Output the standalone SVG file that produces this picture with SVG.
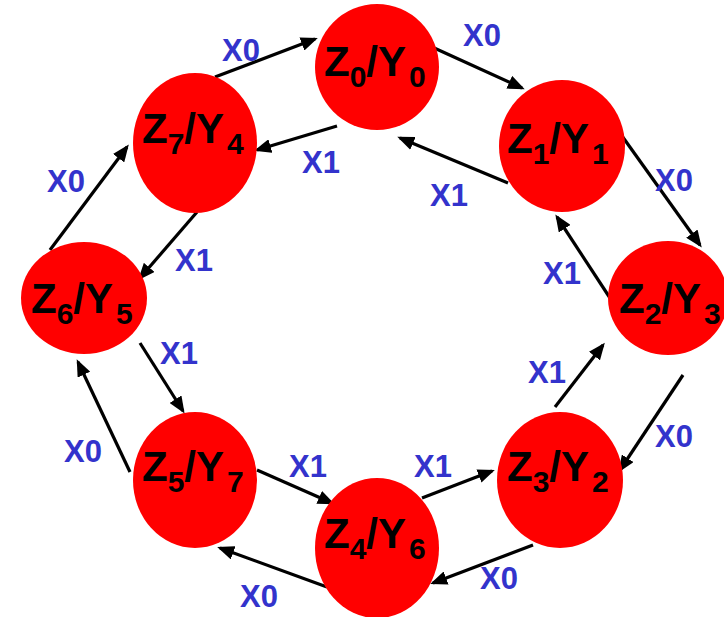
<svg xmlns="http://www.w3.org/2000/svg" width="724" height="617" viewBox="0 0 724 617">
<defs>
<marker id="ah" markerUnits="userSpaceOnUse" markerWidth="17" markerHeight="14" refX="14" refY="7" orient="auto">
<path d="M0,0 L17,7 L0,14 z" fill="#000"/>
</marker>
<style>
.node{fill:#FF0000;stroke:none}
.nt{font-family:"Liberation Sans",Arial,sans-serif;font-weight:bold;font-size:42px;fill:#000}
.sub{font-size:30px}
.lbl{font-family:"Liberation Sans",Arial,sans-serif;font-weight:bold;font-size:31px;fill:#3333CC}
.edge{stroke:#000;stroke-width:3.2;fill:none;marker-end:url(#ah)}
</style>
</defs>
<rect width="724" height="617" fill="#fff"/>
<g id="connectors">
<line class="edge" x1="215" y1="77" x2="315" y2="39"/>
<line class="edge" x1="432" y1="47" x2="522" y2="88"/>
<line class="edge" x1="337" y1="126" x2="257" y2="150"/>
<line class="edge" x1="508" y1="183" x2="400" y2="138"/>
<line class="edge" x1="622" y1="136" x2="700" y2="245"/>
<line class="edge" x1="610" y1="298" x2="557" y2="217"/>
<line class="edge" x1="50" y1="250" x2="127" y2="147"/>
<line class="edge" x1="197" y1="212" x2="140" y2="278"/>
<line class="edge" x1="140" y1="343" x2="183" y2="411"/>
<line class="edge" x1="130" y1="472" x2="78" y2="362"/>
<line class="edge" x1="257" y1="470" x2="332" y2="503"/>
<line class="edge" x1="327" y1="587" x2="220" y2="548"/>
<line class="edge" x1="422" y1="498" x2="492" y2="471"/>
<line class="edge" x1="533" y1="545" x2="433" y2="583"/>
<line class="edge" x1="555" y1="407" x2="603" y2="345"/>
<line class="edge" x1="683" y1="375" x2="620" y2="470"/>
<text class="lbl" x="222" y="61">X0</text>
<text class="lbl" x="463" y="46">X0</text>
<text class="lbl" x="302" y="173">X1</text>
<text class="lbl" x="430" y="206">X1</text>
<text class="lbl" x="47" y="192">X0</text>
<text class="lbl" x="655" y="191">X0</text>
<text class="lbl" x="175" y="271">X1</text>
<text class="lbl" x="543" y="284">X1</text>
<text class="lbl" x="160" y="364">X1</text>
<text class="lbl" x="528" y="383">X1</text>
<text class="lbl" x="64" y="462">X0</text>
<text class="lbl" x="655" y="447">X0</text>
<text class="lbl" x="289" y="477">X1</text>
<text class="lbl" x="414" y="477">X1</text>
<text class="lbl" x="480" y="589">X0</text>
<text class="lbl" x="240" y="607">X0</text>
</g>
<g id="Z0">
<ellipse class="node" cx="377" cy="67" rx="62" ry="63"/>
<text class="nt" x="324" y="76">Z<tspan class="sub" dy="11">0</tspan><tspan dy="-11">/Y</tspan><tspan class="sub" dx="3" dy="11">0</tspan></text>
</g>
<g id="Z1">
<ellipse class="node" cx="562" cy="146" rx="63" ry="66"/>
<text class="nt" x="507" y="153">Z<tspan class="sub" dy="11">1</tspan><tspan dy="-11">/Y</tspan><tspan class="sub" dx="3" dy="11">1</tspan></text>
</g>
<g id="Z2">
<ellipse class="node" cx="668" cy="298" rx="60" ry="57"/>
<text class="nt" x="619" y="313">Z<tspan class="sub" dy="11">2</tspan><tspan dy="-11">/Y</tspan><tspan class="sub" dx="3" dy="11">3</tspan></text>
</g>
<g id="Z3">
<ellipse class="node" cx="560" cy="480" rx="63" ry="68"/>
<text class="nt" x="507" y="481">Z<tspan class="sub" dy="11">3</tspan><tspan dy="-11">/Y</tspan><tspan class="sub" dx="3" dy="11">2</tspan></text>
</g>
<g id="Z4">
<ellipse class="node" cx="377" cy="548" rx="62" ry="70"/>
<text class="nt" x="324" y="548">Z<tspan class="sub" dy="11">4</tspan><tspan dy="-11">/Y</tspan><tspan class="sub" dx="3" dy="11">6</tspan></text>
</g>
<g id="Z5">
<ellipse class="node" cx="195" cy="480" rx="62" ry="68"/>
<text class="nt" x="142" y="481">Z<tspan class="sub" dy="11">5</tspan><tspan dy="-11">/Y</tspan><tspan class="sub" dx="3" dy="11">7</tspan></text>
</g>
<g id="Z6">
<ellipse class="node" cx="84" cy="298" rx="63" ry="56"/>
<text class="nt" x="31" y="313">Z<tspan class="sub" dy="11">6</tspan><tspan dy="-11">/Y</tspan><tspan class="sub" dx="3" dy="11">5</tspan></text>
</g>
<g id="Z7">
<ellipse class="node" cx="195" cy="143" rx="62" ry="70"/>
<text class="nt" x="142" y="143">Z<tspan class="sub" dy="11">7</tspan><tspan dy="-11">/Y</tspan><tspan class="sub" dx="3" dy="11">4</tspan></text>
</g>
</svg>
